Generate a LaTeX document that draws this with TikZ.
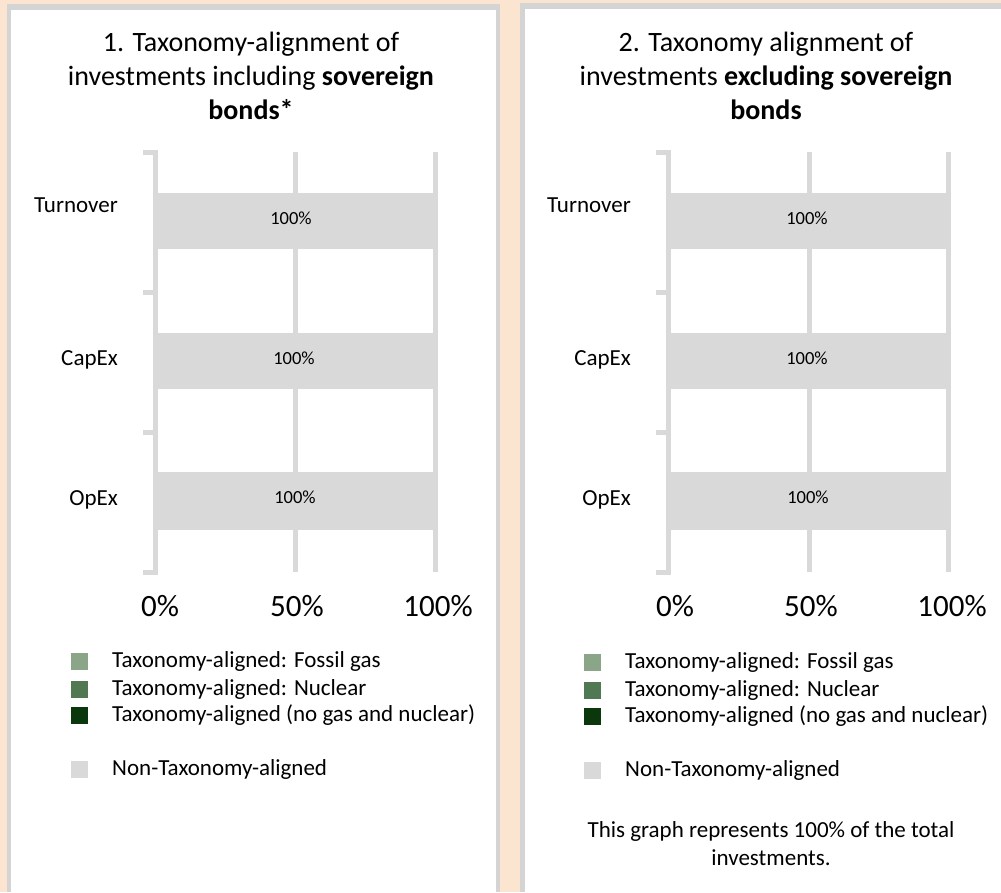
\documentclass[tikz,border=0pt]{standalone}
\usepackage{fontspec}
\setmainfont{Carlito}
\definecolor{peach}{HTML}{FBE5D1}
\definecolor{framegrey}{HTML}{D4D4D4}
\definecolor{bargrey}{HTML}{D9D9D9}
\definecolor{gasgreen}{HTML}{8AA587}
\definecolor{nucgreen}{HTML}{4F7853}
\definecolor{taxgreen}{HTML}{0A380C}
\tikzset{
  axisline/.style={draw=bargrey, line width=5pt},
  title/.style={align=center, font=\fontsize{28}{34}\selectfont},
  catlabel/.style={anchor=east, inner sep=0pt, font=\fontsize{23}{27}\selectfont},
  barlabel/.style={font=\fontsize{18.5}{22}\selectfont},
  ticklabel/.style={font=\fontsize{31}{35}\selectfont},
  legtext/.style={anchor=west, inner sep=0pt, font=\fontsize{23}{27}\selectfont},
  legbox/.style={minimum size=17pt, inner sep=0pt}
}
\begin{document}
\begin{tikzpicture}[x=1pt, y=-1pt]
        \useasboundingbox (0,0) rectangle (1001,892);
        % Background and the two panels
        \fill[peach] (0,0) rectangle (1001,892);
        \fill[framegrey] (7,4) rectangle (500,892);
        \fill[white] (11,10) rectangle (496,892);
        \fill[framegrey] (520,3) rectangle (1001,892);
        \fill[white] (525,9) rectangle (1001,892);

        % Left panel: titles
        \node[title] (titleA) at (251,76) {1. Taxonomy-alignment of\\investments including \textbf{sovereign}\\\textbf{bonds*}};

        % Left panel: grid and axis
        \draw[axisline] (295,152) -- (295,572);
        \draw[axisline] (435,152) -- (435,572);
        \draw[axisline] (143,152) -- (155,152) -- (155,572) -- (143,572);
        \draw[axisline] (143,292) -- (155,292);
        \draw[axisline] (143,432) -- (155,432);

        % Left panel: bars
        \fill[bargrey] (155,193) rectangle (435,249);
        \node[barlabel] (barA1) at (291,218) {100\%};
        \fill[bargrey] (155,333) rectangle (435,389);
        \node[barlabel] (barA2) at (294,358) {100\%};
        \fill[bargrey] (155,472) rectangle (435,530);
        \node[barlabel] (barA3) at (295,497) {100\%};

        \node[catlabel] (turnA) at (118,205) {Turnover};
        \node[catlabel] (capA) at (118,360) {CapEx};
        \node[catlabel] (opA) at (118,500) {OpEx};

        \node[ticklabel] (zeroA) at (160,606) {0\%};
        \node[ticklabel] (halfA) at (297,606) {50\%};
        \node[ticklabel] (fullA) at (438,606) {100\%};

        % Left panel: legend
        \node[legbox, fill=gasgreen] (gasA) at (79,661) {};
        \node[legtext] at (112,661) {Taxonomy-aligned: Fossil gas};
        \node[legbox, fill=nucgreen] (nucA) at (79,689) {};
        \node[legtext] at (112,689) {Taxonomy-aligned: Nuclear};
        \node[legbox, fill=taxgreen] (taxA) at (79,715) {};
        \node[legtext] at (112,715) {Taxonomy-aligned (no gas and nuclear)};
        \node[legbox, fill=bargrey] (nonA) at (79,769) {};
        \node[legtext] at (112,769) {Non-Taxonomy-aligned};

        % Right panel: titles
        \node[title] (titleB) at (766,76) {2. Taxonomy alignment of\\investments \textbf{excluding sovereign}\\\textbf{bonds}};

        % Right panel: grid and axis
        \draw[axisline] (809,152) -- (809,572);
        \draw[axisline] (948,152) -- (948,572);
        \draw[axisline] (656,152) -- (668,152) -- (668,572) -- (656,572);
        \draw[axisline] (656,292) -- (668,292);
        \draw[axisline] (656,432) -- (668,432);

        % Right panel: bars
        \fill[bargrey] (668,193) rectangle (948,249);
        \node[barlabel] (barB1) at (807,218) {100\%};
        \fill[bargrey] (668,333) rectangle (948,389);
        \node[barlabel] (barB2) at (807,358) {100\%};
        \fill[bargrey] (668,472) rectangle (948,530);
        \node[barlabel] (barB3) at (808,497) {100\%};

        \node[catlabel] (turnB) at (631,205) {Turnover};
        \node[catlabel] (capB) at (631,360) {CapEx};
        \node[catlabel] (opB) at (631,500) {OpEx};

        \node[ticklabel] (zeroB) at (675,606) {0\%};
        \node[ticklabel] (halfB) at (811,606) {50\%};
        \node[ticklabel] (fullB) at (952,606) {100\%};

        % Right panel: legend
        \node[legbox, fill=gasgreen] (gasB) at (592,662) {};
        \node[legtext] at (625,662) {Taxonomy-aligned: Fossil gas};
        \node[legbox, fill=nucgreen] (nucB) at (592,690) {};
        \node[legtext] at (625,690) {Taxonomy-aligned: Nuclear};
        \node[legbox, fill=taxgreen] (taxB) at (592,716) {};
        \node[legtext] at (625,716) {Taxonomy-aligned (no gas and nuclear)};
        \node[legbox, fill=bargrey] (nonB) at (592,770) {};
        \node[legtext] at (625,770) {Non-Taxonomy-aligned};

        \node[align=center, font=\fontsize{23}{28}\selectfont] (noteB) at (771,844) {This graph represents 100\% of the total\\investments.};
    \end{tikzpicture}
\end{document}
